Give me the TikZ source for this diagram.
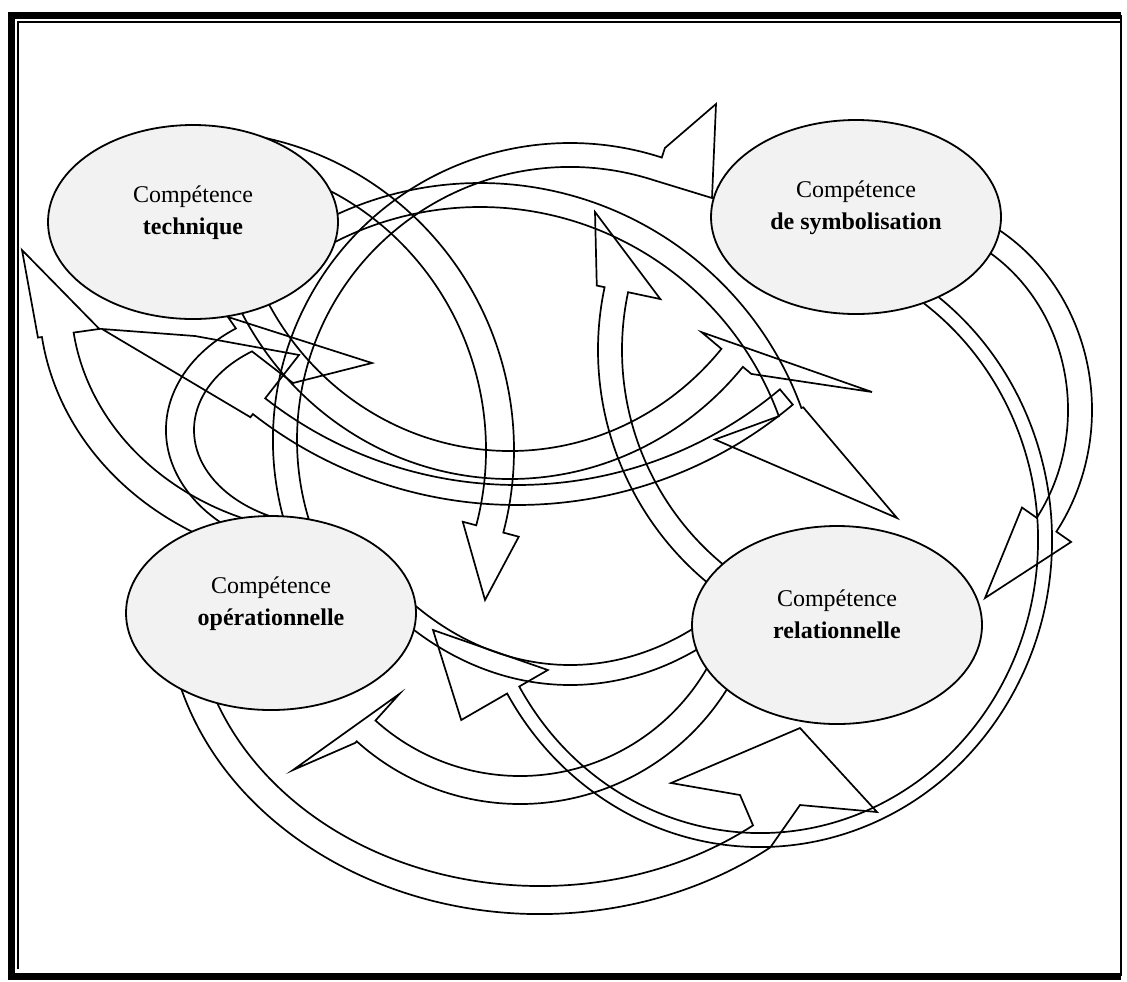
\documentclass[tikz,border=0pt]{standalone}
\usepackage{fontspec}
\setmainfont{Liberation Serif}
\usetikzlibrary{shapes.geometric}

% curved block arrow: centre, x radius, y radius, tail angle, head angle,
% half width, outer barb, inner barb, tip (one point or a short run of points)
\newcommand\blockarc[9]{%
  \draw[band] ([shift={#1}]#4:#2+#6 and #3+#6)
    arc[start angle=#4, end angle=#5, x radius={#2+#6}, y radius={#3+#6}]
    -- ([shift={#1}]#5:#2+#7 and #3+#7) -- #9
    -- ([shift={#1}]#5:#2-#8 and #3-#8)
    -- ([shift={#1}]#5:#2-#6 and #3-#6)
    arc[start angle=#5, end angle=#4, x radius={#2-#6}, y radius={#3-#6}]
    -- cycle;}

\begin{document}
\begin{tikzpicture}[x=0.5pt,y=-0.5pt,
  band/.style={draw=black,line width=0.85pt,line join=miter},
  cell/.style={ellipse,draw,line width=0.9pt,fill=black!5,
    minimum width=145pt,minimum height=97pt,inner sep=0pt},
  caption/.style={align=center,font=\fontsize{12}{16}\selectfont}]
  \useasboundingbox (0,0) rectangle (1127,981);
  % frame
  \draw[line width=3.5pt] (1121,15) -- (11,15) -- (11,976) -- (1121,976);
  \draw[line width=0.8pt] (1121,15) -- (1121,976);
  \draw[line width=0.7pt] (18,969) -- (18,22) -- (1121,22);

  % arrows
  \blockarc{(340,300)}{285}{250}{105}{172}{16}{20}{42}{(22,250)}
  \blockarc{(330,430)}{150}{110}{112}{235}{14}{28}{14}{(372,363) -- (293,383)}
  \blockarc{(200,450)}{300}{305}{275}{375}{14}{30}{28}{(485,600)}
  \blockarc{(570,440)}{285}{285}{160}{288}{12}{22}{12}{(716,104) -- (712,198)}
  \blockarc{(480,525)}{330}{330}{242}{340}{12}{14}{80}{(897,518)}
  \blockarc{(900,350)}{290}{290}{125}{192}{12}{20}{45}{(595,212)}
  \blockarc{(517,76)}{419}{419}{50}{128}{10}{14}{65}{(102,329) -- (195,336)}
  \blockarc{(510,165)}{290}{300}{153}{40}{14}{25}{40}{(872,392)}
  \blockarc{(895,410)}{185}{200}{-65}{35}{12}{30}{30}{(985,598)}
  \blockarc{(760,540)}{285}{300}{-58}{150}{7}{60}{40}{(433,630)}
  \blockarc{(540,600)}{360}{300}{168}{52}{14}{14}{14}{(800,805) -- (877,812) -- (800,728) -- (671,783) -- (740,795)}
  \blockarc{(520,560)}{230}{230}{30}{132}{14}{16}{50}{(293,770)}
  \blockarc{(570,280)}{300}{395}{125}{62}{10}{10}{10}{(738,607)}

  % competences
  \node[cell] (tech) at (193,222) {};
  \node[cell] (symb) at (856,217) {};
  \node[cell] (oper) at (271,613) {};
  \node[cell,minimum height=99pt] (rela) at (837,625) {};
  \node[caption] (techtext) at ([yshift=4.5pt]tech.center) {Compétence\\\textbf{technique}};
  \node[caption] (symbtext) at ([yshift=4.5pt]symb.center) {Compétence\\\textbf{de symbolisation}};
  \node[caption] (opertext) at ([yshift=4.5pt]oper.center) {Compétence\\\textbf{opérationnelle}};
  \node[caption] (relatext) at ([yshift=5.5pt]rela.center) {Compétence\\\textbf{relationnelle}};
\end{tikzpicture}
\end{document}
